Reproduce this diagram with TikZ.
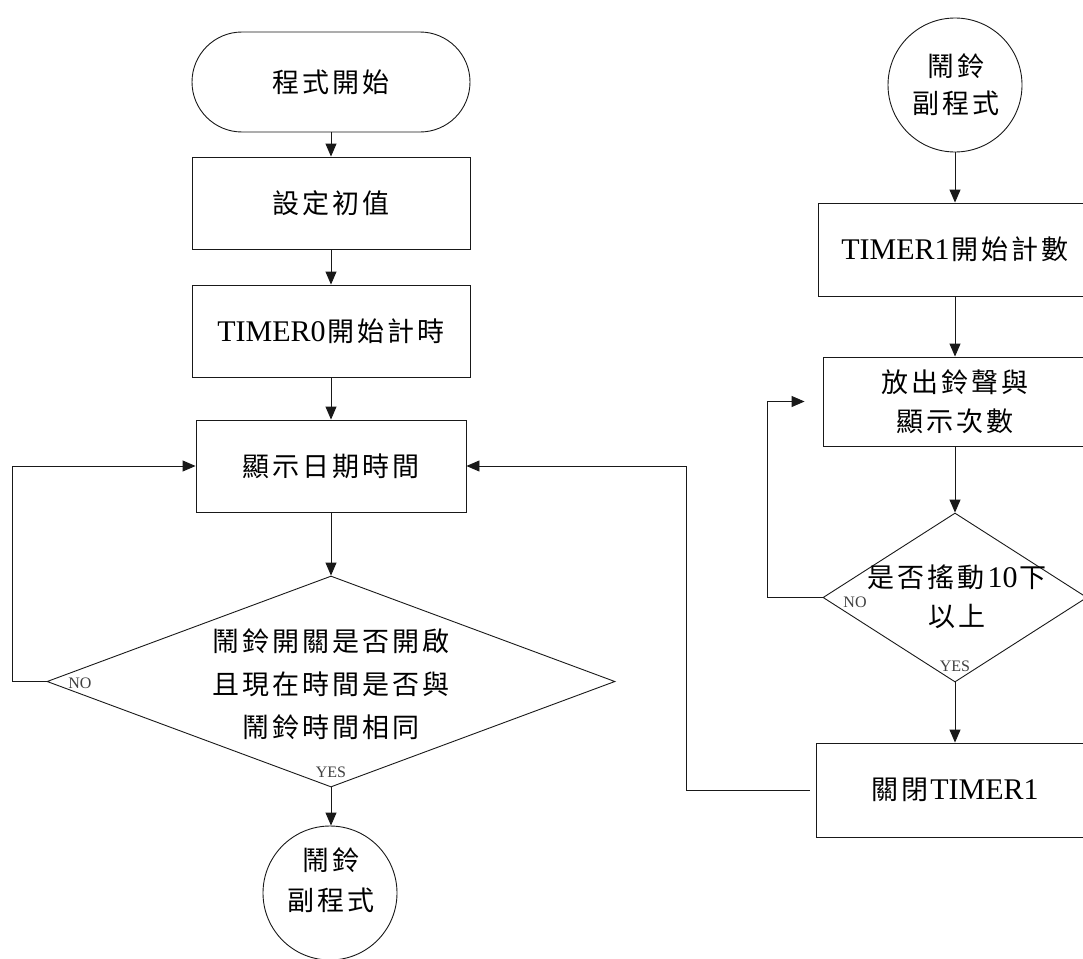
\documentclass[tikz,border=0pt]{standalone}
\usepackage{fontspec}
\setmainfont{Liberation Serif}
\newfontfamily\cjk{Noto Sans CJK TC}
\usetikzlibrary{arrows.meta,shapes.geometric}
\newlength\cjkgap \setlength\cjkgap{3pt}
\def\spcA#1{\ifx\relax#1\unskip\else#1\hskip\cjkgap\relax\expandafter\spcA\fi}
\newcommand\zh[1]{{\cjk\fontsize{27}{40}\selectfont\spcA#1\relax}}
\tikzset{
  base/.style={draw=black!90, line width=0.9pt, inner sep=0pt, align=center,
    font=\fontsize{30}{38}\selectfont},
  box/.style={base, rectangle},
  term/.style={base, rectangle, rounded corners=50pt},
  circ/.style={base, circle, minimum size=134pt},
  dia/.style={base, diamond},
  txt/.style={inner sep=0pt, align=center},
  arr/.style={draw=black!90, line width=0.9pt, -{Triangle[length=13pt,width=11pt]}},
  lbl/.style={inner sep=0pt, font=\fontsize{16}{16}\selectfont, text=black!75},
}
\begin{document}
\begin{tikzpicture}[x=1pt,y=-1pt]
\useasboundingbox (0,0) rectangle (1083,958);
\fill[white] (0,0) rectangle (1083,958);
% left column
\node[term, minimum width=278pt, minimum height=100pt] (start) at (331,82) {\zh{程式開始}};
\node[box, minimum width=278pt, minimum height=92pt] (init) at (331,203) {\zh{設定初值}};
\node[box, minimum width=278pt, minimum height=92pt] (t0) at (331,331) {TIMER0\hskip2pt\zh{開始計時}};
\node[box, minimum width=270pt, minimum height=92pt] (disp) at (331,466) {\zh{顯示日期時間}};
\node[dia, minimum width=568pt, minimum height=211pt] (d1) at (331,681.5) {};
\node[txt, font=\fontsize{30}{43}\selectfont] (d1t) at (331,684) {\zh{鬧鈴開關是否開啟}\\\zh{且現在時間是否與}\\\zh{鬧鈴時間相同}};
\node[circ] (sub1) at (330,893) {};
\node[txt, font=\fontsize{30}{40}\selectfont] (sub1t) at (331,880) {\zh{鬧鈴}\\\zh{副程式}};
\node[lbl] (no1) at (80,683) {NO};
\node[lbl] (yes1) at (331,772) {YES};
% right column
\node[circ] (sub2) at (955,85) {};
\node[txt, font=\fontsize{30}{37}\selectfont] (sub2t) at (956,85) {\zh{鬧鈴}\\\zh{副程式}};
\node[box, minimum width=274pt, minimum height=93pt] (t1) at (955,249.5) {TIMER1\hskip2pt\zh{開始計數}};
\node[box, minimum width=264pt, minimum height=89pt, font=\fontsize{30}{39}\selectfont] (fang) at (955,401.5) {\zh{放出鈴聲與}\\\zh{顯示次數}};
\node[dia, minimum width=264pt, minimum height=169pt] (d2) at (955,597.5) {};
\node[txt, font=\fontsize{30}{39}\selectfont] (d2t) at (957,597) {\zh{是否搖動}\hskip3pt 10\hskip2pt\zh{下}\\\zh{以上}};
\node[box, minimum width=278pt, minimum height=94pt] (close) at (955,790) {\zh{關閉}\hskip2pt TIMER1};
\node[lbl] (no2) at (855,602) {NO};
\node[lbl] (yes2) at (955,666) {YES};
% connectors left
\draw[arr] (start) -- (init);
\draw[arr] (init) -- (t0);
\draw[arr] (t0) -- (disp);
\draw[arr] (disp) -- (d1);
\draw[arr] (d1.south) -- (d1.south |- sub1.north);
\coordinate (l1) at (12,0);
\draw[arr] (d1.west) -- (d1.west -| l1) |- (disp.west);
% connectors right
\draw[arr] (sub2) -- (t1);
\draw[arr] (t1) -- (fang);
\draw[arr] (fang) -- (d2);
\draw[arr] (d2) -- (close);
\coordinate (l2) at (767,0);
\draw[arr] (d2.west) -- (d2.west -| l2) |- ([xshift=-18pt]fang.west);
\coordinate (l3) at (686,0);
\draw[arr] ([xshift=-6pt]close.west) -- (close.west -| l3) |- (disp.east);
\end{tikzpicture}
\end{document}
